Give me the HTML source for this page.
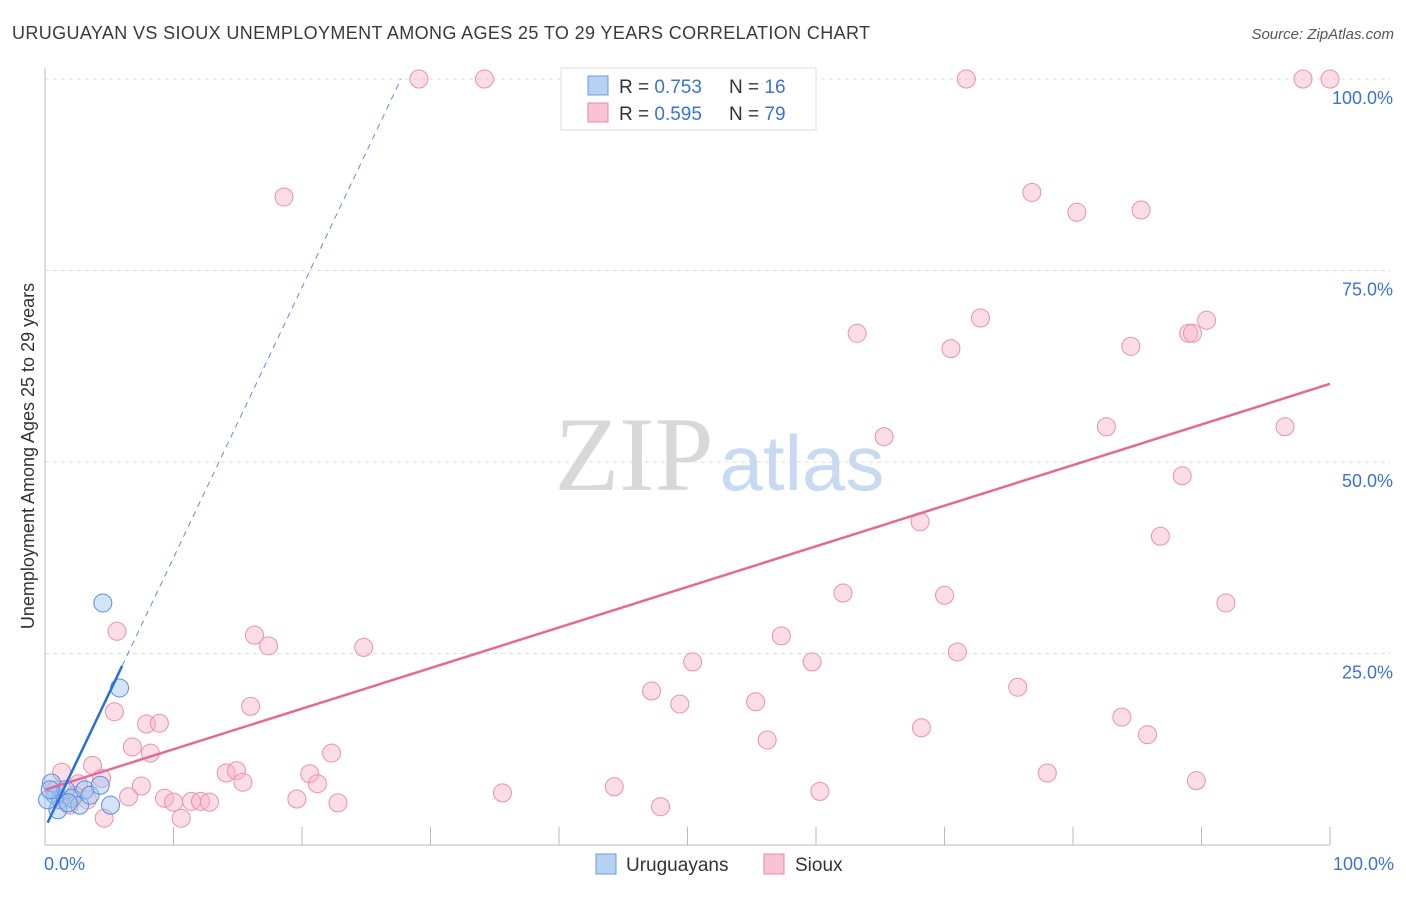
<!DOCTYPE html>
<html><head><meta charset="utf-8"><style>
body{margin:0;background:#fff;font-family:"Liberation Sans",sans-serif}
</style></head><body>
<svg id="chart" width="1406" height="892" xmlns="http://www.w3.org/2000/svg">
<text x="12" y="39" font-size="18" fill="#3a3a3a" textLength="858">URUGUAYAN VS SIOUX UNEMPLOYMENT AMONG AGES 25 TO 29 YEARS CORRELATION CHART</text>
<text x="1394" y="39" font-size="15" fill="#555" text-anchor="end" font-style="italic">Source: ZipAtlas.com</text>
<text x="634" y="490" font-size="106" fill="#d8d8d8" font-family="Liberation Serif,serif" text-anchor="middle">ZIP</text>
<text x="802" y="490" font-size="78" fill="#c8daf2" text-anchor="middle">atlas</text>
<g id="grid"></g><g id="axes"></g><g id="pts"></g><g id="lines"></g>
<text transform="translate(34,456) rotate(-90)" font-size="18" fill="#333" text-anchor="middle">Unemployment Among Ages 25 to 29 years</text>
<text x="44" y="870" font-size="18" fill="#3b73d0">0.0%</text>
<text x="1394" y="870" font-size="18" fill="#3b73d0" text-anchor="end">100.0%</text>
<g>
<rect x="561" y="68" width="255" height="62" fill="#fff" stroke="#ddd"/>
<rect x="588" y="76" width="20" height="19" fill="#b7d1f5" stroke="#6a9be0"/>
<rect x="588" y="103" width="20" height="19" fill="#f9c3d3" stroke="#e88aa8"/>
<text x="619" y="93" font-size="19" fill="#333">R = <tspan fill="#3b73d0">0.753</tspan><tspan x="729">N = </tspan><tspan fill="#3b73d0">16</tspan></text>
<text x="619" y="120" font-size="19" fill="#333">R = <tspan fill="#3b73d0">0.595</tspan><tspan x="729">N = </tspan><tspan fill="#3b73d0">79</tspan></text>
</g>
<g>
<rect x="596" y="854" width="20" height="20" fill="#b7d1f5" stroke="#6a9be0"/>
<text x="626" y="871" font-size="19" fill="#333">Uruguayans</text>
<rect x="764" y="854" width="20" height="20" fill="#f9c3d3" stroke="#e88aa8"/>
<text x="795" y="871" font-size="19" fill="#333">Sioux</text>
</g>
</svg>
<script>
const yTicks=[25,50,75,100];
const yTickLabels=["25.0%","50.0%","75.0%","100.0%"];
const xTicks=[10,20,30,40,50,60,70,80,90,100];
const siouxX=[18.6,29.1,34.2,71.7,97.9,100,76.8,80.3,85.3,63.2,70.5,72.8,84.5,89.0,89.3,90.4,65.3,82.6,96.5,88.5,68.1,86.8,62.1,70.0,91.9,5.6,16.3,17.4,24.8,57.3,71.0,50.4,59.7,47.2,75.7,49.4,16.0,55.3,5.4,7.9,8.9,83.8,68.2,56.2,85.8,6.8,8.2,22.3,3.7,1.3,4.4,14.1,14.9,20.6,78.0,7.5,15.4,21.2,89.6,35.6,44.3,60.3,6.5,9.3,10.0,11.4,12.1,12.8,19.6,22.8,3.3,47.9,4.6,10.6,2.6,0.8,1.2,1.9,2.3];
const siouxY=[84.6,100,100,100,100,100,85.2,82.6,82.9,66.8,64.8,68.8,65.1,66.8,66.8,68.5,53.3,54.6,54.6,48.2,42.2,40.3,32.9,32.6,31.6,27.9,27.4,26.0,25.8,27.3,25.2,23.9,23.9,20.1,20.6,18.4,18.1,18.7,17.4,15.8,15.9,16.7,15.3,13.7,14.4,12.8,12.0,12.0,10.4,9.5,8.7,9.4,9.7,9.3,9.4,7.7,8.2,8.0,8.4,6.8,7.6,7.0,6.3,6.1,5.6,5.7,5.7,5.6,6.0,5.5,5.9,5.0,3.5,3.5,8.0,7.2,5.9,5.2,6.5];
const uruX=[4.5,5.8,0.5,0.8,1.2,1.6,2.1,2.7,3.1,3.5,4.3,5.1,1.0,0.2,0.4,1.8];
const uruY=[31.6,20.5,8.1,6.5,5.9,7.2,6.1,5.2,7.2,6.5,7.8,5.2,4.6,5.9,7.2,5.5];
const uruTrend=[2.2,3.53];   // intercept, slope
const siouxTrend=[7.2,0.53];
const NS="http://www.w3.org/2000/svg";
const X=v=>45+v*12.85, Y=v=>845-v*7.66;
function mk(t,a,p){const e=document.createElementNS(NS,t);for(const k in a)e.setAttribute(k,a[k]);document.getElementById(p).appendChild(e);return e;}
yTicks.forEach((t,i)=>{
 const g=mk('line',{x1:45,x2:1390,y1:Y(t),y2:Y(t),stroke:'#ddd','stroke-dasharray':'4,4'},'grid');
 
 
 const l=mk('text',{x:1393,y:Y(t)+25,'font-size':18,fill:'#3b73d0','text-anchor':'end'},'grid');l.textContent=yTickLabels[i];
 
 
});
const ya=mk('line',{x1:45,x2:45,y1:68,y2:845,stroke:'#bbb'},'axes');


const xa=mk('line',{x1:45,x2:1330,y1:845,y2:845,stroke:'#bbb'},'axes');


xTicks.forEach(t=>{const e=mk('line',{x1:X(t),x2:X(t),y1:827,y2:845,stroke:'#bbb'},'axes');
 
 });
siouxX.forEach((v,i)=>{const c=mk('circle',{cx:X(v),cy:Y(siouxY[i]),r:9,fill:'rgba(248,180,200,0.45)',stroke:'#e991ad','stroke-width':1},'pts');
 
 });
uruX.forEach((v,i)=>{const c=mk('circle',{cx:X(v),cy:Y(uruY[i]),r:9,fill:'rgba(160,195,240,0.45)',stroke:'#5a8ee0','stroke-width':1},'pts');
 
 });
const sl=mk('line',{x1:X(0),y1:Y(siouxTrend[0]),x2:X(100),y2:Y(siouxTrend[0]+siouxTrend[1]*100),stroke:'#e46a93','stroke-width':2.5},'lines');


const ux0=0.2,ux1=6.0,ux2=(100-uruTrend[0])/uruTrend[1];
const ul=mk('line',{x1:X(ux0),y1:Y(uruTrend[0]+uruTrend[1]*ux0),x2:X(ux1),y2:Y(uruTrend[0]+uruTrend[1]*ux1),stroke:'#2a6fd6','stroke-width':2.5},'lines');


const ud=mk('line',{x1:X(ux1),y1:Y(uruTrend[0]+uruTrend[1]*ux1),x2:X(ux2),y2:Y(100),stroke:'#5a8ee0','stroke-width':1,'stroke-dasharray':'6,5'},'lines');


</script>
</body></html>
